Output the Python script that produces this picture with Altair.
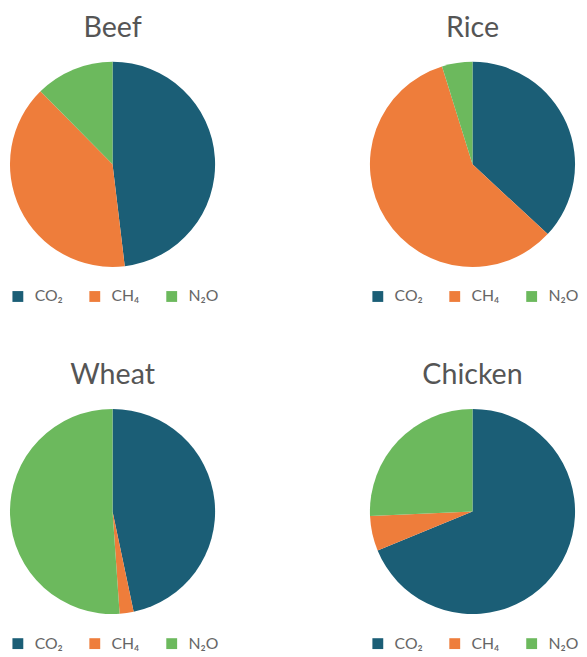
import altair as alt
import pandas as pd

foods = ["Beef", "Rice", "Wheat", "Chicken"]
gases = ["CO₂", "CH₄", "N₂O"]
co2 = [48.1, 36.9, 46.7, 68.8]
ch4 = [39.5, 58.3, 2.2, 5.5]
n2o = [12.4, 4.8, 51.1, 25.7]
colors = ["#1b5e76", "#ee7d3b", "#6cb95d"]

rows = []
for i, f in enumerate(foods):
    for j, (g, v) in enumerate(zip(gases, [co2[i], ch4[i], n2o[i]])):
        rows.append({"food": f, "gas": g, "value": v, "idx": j})
df = pd.DataFrame(rows)

FONT = "Lato"
W = 208


def pie(food):
    return (
        alt.Chart(df, title=alt.TitleParams(food, fontSize=29, color="#555555", font=FONT,
                                            fontWeight="normal", anchor="middle", offset=19))
        .transform_filter(alt.datum.food == food)
        .mark_arc(stroke=None, radius=W / 2)
        .encode(
            theta=alt.Theta("value:Q", stack=True),
            order=alt.Order("idx:Q"),
            color=alt.Color(
                "gas:N",
                scale=alt.Scale(domain=gases, range=colors),
                legend=alt.Legend(
                    orient="bottom", direction="horizontal", title=None,
                    symbolType="square", symbolSize=121, symbolStrokeWidth=0,
                    labelFontSize=16, labelColor="#666666", labelFont=FONT,
                    columnPadding=24, labelOffset=9, offset=22,
                ),
            ),
        )
        .properties(width=W, height=W)
    )


top = alt.hconcat(pie("Beef"), pie("Rice"), spacing=153).resolve_scale(color="independent")
bottom = alt.hconcat(pie("Wheat"), pie("Chicken"), spacing=153).resolve_scale(color="independent")
chart = (
    alt.vconcat(top, bottom, spacing=58)
    .resolve_scale(color="independent")
    .properties(padding={"left": 2, "top": 2, "right": 0, "bottom": 0})
    .configure_view(stroke=None)
)
chart.save("out.html", embed_options={"renderer": "svg", "actions": False})
